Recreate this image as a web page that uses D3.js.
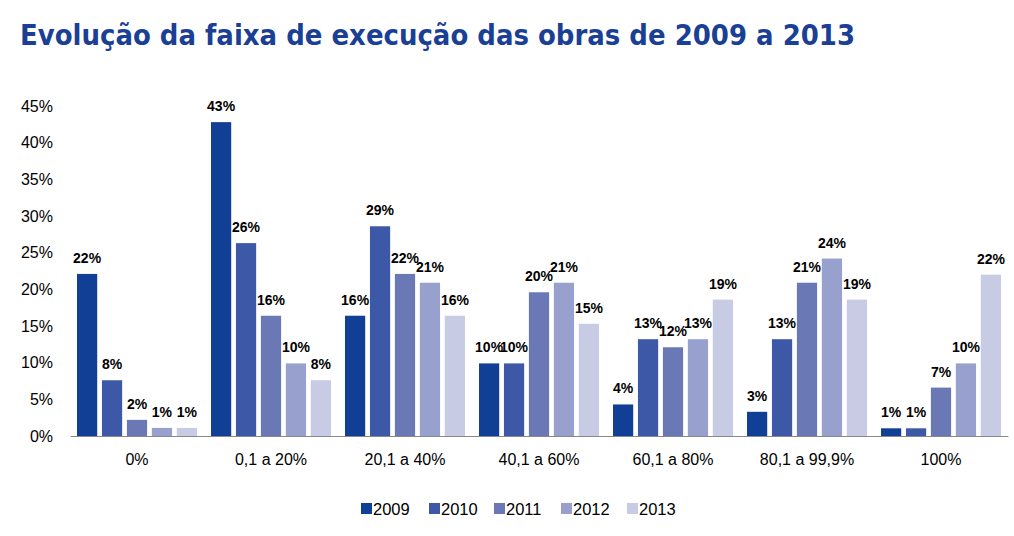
<!DOCTYPE html>
<html>
<head>
<meta charset="utf-8">
<script src="https://cdn.jsdelivr.net/npm/d3@7"></script>
<style>
  html, body { margin: 0; padding: 0; background: #fff; }
  svg { display: block; }
</style>
</head>
<body>
<svg id="chart" width="1014" height="536"></svg>
<script>
const title = "Evolução da faixa de execução das obras de 2009 a 2013";
const categories = ["0%", "0,1 a 20%", "20,1 a 40%", "40,1 a 60%", "60,1 a 80%", "80,1 a 99,9%", "100%"];
const years = ["2009", "2010", "2011", "2012", "2013"];
const s2009 = [22.1, 42.8, 16.4, 9.9, 4.3, 3.3, 1.05];
const s2010 = [7.6, 26.3, 28.6, 9.9, 13.2, 13.2, 1.05];
const s2011 = [2.2, 16.4, 22.1, 19.6, 12.1, 20.9, 6.6];
const s2012 = [1.1, 9.9, 20.9, 20.9, 13.2, 24.2, 9.9];
const s2013 = [1.1, 7.6, 16.4, 15.3, 18.6, 18.6, 22.0];
const yTicks = [0, 5, 10, 15, 20, 25, 30, 35, 40, 45];
const colors = ["#123f96", "#3c58a7", "#6b78b6", "#98a1cd", "#c7cbe4"];

const seriesValues = [s2009, s2010, s2011, s2012, s2013];
const svg = d3.select("#chart");

// Title
const t = svg.append("text")
  .attr("x", 20).attr("y", 45)
  .attr("font-family", "'DejaVu Sans', sans-serif")
  .attr("font-weight", "bold")
  .attr("font-size", 28)
  .attr("fill", "#1b3f95")
  .text(title);
t.attr("textLength", 835).attr("lengthAdjust", "spacingAndGlyphs");

const x0 = d3.scaleBand().domain(categories).range([70, 1008]).paddingInner(0).paddingOuter(0);
const x1 = d3.scaleBand().domain(years).range([7, x0.bandwidth() - 7]).paddingInner(0.19).paddingOuter(0);
const y = d3.scaleLinear().domain([0, 45]).range([436, 106]);

// Y axis labels
const yAxis = d3.axisLeft(y).tickValues(yTicks).tickFormat(d => d + "%").tickSize(0).tickPadding(0);
const gy = svg.append("g").attr("transform", "translate(53,0)").call(yAxis);
gy.select(".domain").remove();
gy.selectAll("text")
  .attr("font-family", "'Liberation Sans', Arial, sans-serif")
  .attr("font-size", 16).attr("fill", "#000");

// Bars
const groups = svg.append("g").selectAll("g")
  .data(categories)
  .join("g")
  .attr("transform", d => `translate(${x0(d)},0)`);

groups.each(function(cat, ci) {
  const g = d3.select(this);
  const data = years.map((yr, si) => ({ yr, si, v: seriesValues[si][ci] }));
  g.selectAll("rect").data(data).join("rect")
    .attr("x", d => x1(d.yr))
    .attr("y", d => y(d.v))
    .attr("width", x1.bandwidth())
    .attr("height", d => y(0) - y(d.v))
    .attr("fill", d => colors[d.si]);
  g.selectAll("text.lbl").data(data).join("text")
    .attr("class", "lbl")
    .attr("x", d => x1(d.yr) + x1.bandwidth() / 2)
    .attr("y", d => y(d.v) - 11)
    .attr("text-anchor", "middle")
    .attr("font-family", "'Liberation Sans', Arial, sans-serif")
    .attr("font-weight", "bold")
    .attr("font-size", 14)
    .attr("fill", "#000")
    .text(d => Math.round(d.v) + "%");
});

// X axis
const xAxis = d3.axisBottom(x0).tickSize(0).tickPadding(0);
const gx = svg.append("g").attr("transform", "translate(0,436)").call(xAxis);
gx.select(".domain").attr("stroke", "#8a8a8a").attr("stroke-width", 1.2);
gx.selectAll("text")
  .attr("y", 18).attr("dy", "0.71em")
  .attr("font-family", "'Liberation Sans', Arial, sans-serif")
  .attr("font-size", 16).attr("fill", "#000");

// Legend
const legendX = [361, 429, 494, 561, 627];
const lg = svg.append("g").selectAll("g").data(years).join("g")
  .attr("transform", (d, i) => `translate(${legendX[i]},503)`);
lg.append("rect").attr("width", 11).attr("height", 11).attr("fill", (d, i) => colors[i]);
lg.append("text").attr("x", 12).attr("y", 6).attr("dy", "0.35em")
  .attr("font-family", "'Liberation Sans', Arial, sans-serif")
  .attr("font-size", 16.5).attr("fill", "#000")
  .text(d => d);
</script>
</body>
</html>
